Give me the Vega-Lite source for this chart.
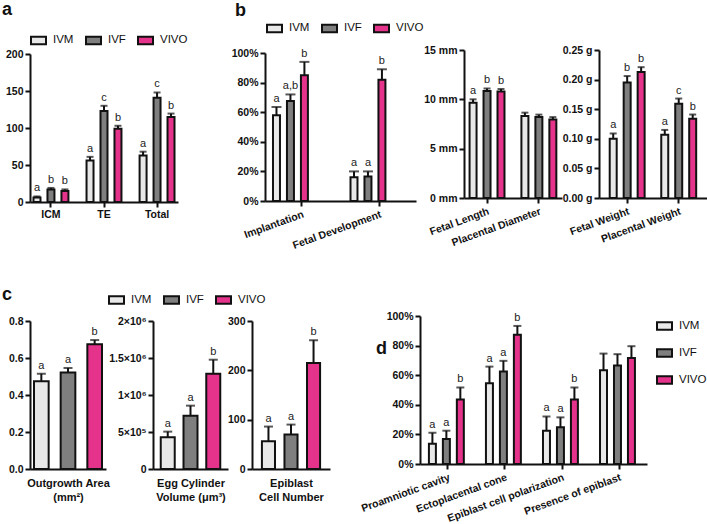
{
  "$schema": "https://vega.github.io/schema/vega-lite/v6.json",
  "background": "white",
  "padding": {"left": 2, "top": 1, "right": 0, "bottom": 2},
  "autosize": {"type": "pad"},
  "datasets": {
    "a": [
      {"cat": "ICM", "group": "IVM", "value": 6, "hi": 7.5, "sig": "a"},
      {"cat": "ICM", "group": "IVF", "value": 17, "hi": 19, "sig": "b"},
      {"cat": "ICM", "group": "VIVO", "value": 15, "hi": 17, "sig": "b"},
      {"cat": "TE", "group": "IVM", "value": 56, "hi": 61, "sig": "a"},
      {"cat": "TE", "group": "IVF", "value": 123, "hi": 130, "sig": "c"},
      {"cat": "TE", "group": "VIVO", "value": 99, "hi": 103, "sig": "b"},
      {"cat": "Total", "group": "IVM", "value": 63, "hi": 68, "sig": "a"},
      {"cat": "Total", "group": "IVF", "value": 141, "hi": 148, "sig": "c"},
      {"cat": "Total", "group": "VIVO", "value": 115, "hi": 119.5, "sig": "b"}
    ],
    "b1": [
      {"cat": "Implantation", "group": "IVM", "value": 58, "hi": 63.5, "sig": "a"},
      {"cat": "Implantation", "group": "IVF", "value": 67.5, "hi": 72, "sig": "a,b"},
      {"cat": "Implantation", "group": "VIVO", "value": 85, "hi": 94, "sig": "b"},
      {"cat": "Fetal Development", "group": "IVM", "value": 16, "hi": 20, "sig": "a"},
      {"cat": "Fetal Development", "group": "IVF", "value": 16.5, "hi": 20, "sig": "a"},
      {"cat": "Fetal Development", "group": "VIVO", "value": 82, "hi": 89, "sig": "b"}
    ],
    "b2": [
      {"cat": "Fetal Length", "group": "IVM", "value": 9.65, "hi": 10.0, "sig": "a"},
      {"cat": "Fetal Length", "group": "IVF", "value": 10.85, "hi": 11.1, "sig": "b"},
      {"cat": "Fetal Length", "group": "VIVO", "value": 10.8, "hi": 11.05, "sig": "b"},
      {"cat": "Placental Diameter", "group": "IVM", "value": 8.3, "hi": 8.65, "sig": ""},
      {"cat": "Placental Diameter", "group": "IVF", "value": 8.2, "hi": 8.45, "sig": ""},
      {"cat": "Placental Diameter", "group": "VIVO", "value": 7.95, "hi": 8.2, "sig": ""}
    ],
    "b3": [
      {"cat": "Fetal Weight", "group": "IVM", "value": 0.1, "hi": 0.109, "sig": "a"},
      {"cat": "Fetal Weight", "group": "IVF", "value": 0.195, "hi": 0.206, "sig": "b"},
      {"cat": "Fetal Weight", "group": "VIVO", "value": 0.213, "hi": 0.221, "sig": "b"},
      {"cat": "Placental Weight", "group": "IVM", "value": 0.107, "hi": 0.115, "sig": "a"},
      {"cat": "Placental Weight", "group": "IVF", "value": 0.159, "hi": 0.168, "sig": "c"},
      {"cat": "Placental Weight", "group": "VIVO", "value": 0.134, "hi": 0.141, "sig": "b"}
    ],
    "c1": [
      {"group": "IVM", "value": 0.475, "hi": 0.515, "sig": "a"},
      {"group": "IVF", "value": 0.522, "hi": 0.546, "sig": "a"},
      {"group": "VIVO", "value": 0.674, "hi": 0.697, "sig": "b"}
    ],
    "c2": [
      {"group": "IVM", "value": 428000, "hi": 505000, "sig": "a"},
      {"group": "IVF", "value": 720000, "hi": 856000, "sig": "a"},
      {"group": "VIVO", "value": 1288000, "hi": 1477000, "sig": "b"}
    ],
    "c3": [
      {"group": "IVM", "value": 56, "hi": 86, "sig": "a"},
      {"group": "IVF", "value": 70, "hi": 90, "sig": "a"},
      {"group": "VIVO", "value": 215, "hi": 261, "sig": "b"}
    ],
    "d": [
      {"cat": "Proamniotic cavity", "group": "IVM", "value": 13.7, "hi": 21.1, "sig": "a"},
      {"cat": "Proamniotic cavity", "group": "IVF", "value": 16.9, "hi": 22.5, "sig": "a"},
      {"cat": "Proamniotic cavity", "group": "VIVO", "value": 43.6, "hi": 51.7, "sig": "b"},
      {"cat": "Ectoplacental cone", "group": "IVM", "value": 54.6, "hi": 65.8, "sig": "a"},
      {"cat": "Ectoplacental cone", "group": "IVF", "value": 62.5, "hi": 69.7, "sig": "a"},
      {"cat": "Ectoplacental cone", "group": "VIVO", "value": 87.4, "hi": 93.3, "sig": "b"},
      {"cat": "Epiblast cell polarization", "group": "IVM", "value": 22.5, "hi": 32.1, "sig": "a"},
      {"cat": "Epiblast cell polarization", "group": "IVF", "value": 24.9, "hi": 31.5, "sig": "a"},
      {"cat": "Epiblast cell polarization", "group": "VIVO", "value": 43.6, "hi": 51.7, "sig": "b"},
      {"cat": "Presence of epiblast", "group": "IVM", "value": 63.4, "hi": 74.6, "sig": ""},
      {"cat": "Presence of epiblast", "group": "IVF", "value": 66.5, "hi": 74.2, "sig": ""},
      {"cat": "Presence of epiblast", "group": "VIVO", "value": 71.7, "hi": 79.6, "sig": ""}
    ]
  },
  "resolve": {"scale": {"color": "independent"}, "legend": {"color": "independent"}},
  "vconcat": [
    {
      "bounds": "flush",
      "spacing": 0,
      "resolve": {"scale": {"color": "independent"}, "legend": {"color": "independent"}},
      "hconcat": [
        {
          "title": {"text": "a", "dx": -28, "offset": 12.5},
          "width": 148, "height": 152,
          "data": {"name": "a"},
          "encoding": {
            "x": {"field": "cat", "type": "nominal", "sort": null, "title": null, "scale": {"paddingInner": 0.21, "paddingOuter": 0}, "axis": {"labelAngle": 0, "labelFontSize": 10.5, "labelPadding": 2}},
            "xOffset": {"field": "group", "type": "nominal", "sort": ["IVM", "IVF", "VIVO"], "scale": {"paddingInner": 0.5, "paddingOuter": 0.25}},
            "y": {"field": "value", "type": "quantitative", "title": null, "scale": {"domain": [0, 200], "range": [152, 4], "nice": false}, "axis": {"values": [0, 50, 100, 150, 200]}}
          },
          "layer": [
            {"mark": {"type": "rule", "strokeWidth": 2, "color": "#111"}, "encoding": {"y2": {"field": "hi"}}},
            {"mark": {"type": "tick", "thickness": 2, "size": 7, "color": "#111"}, "encoding": {"y": {"field": "hi", "type": "quantitative", "title": null}}},
            {"mark": {"type": "bar", "stroke": "#111", "strokeWidth": 2}, "encoding": {"color": {"field": "group", "type": "nominal", "scale": {"domain": ["IVM", "IVF", "VIVO"], "range": ["#e8e8e8", "#7f7f7f", "#e5328b"]}, "legend": {"orient": "none", "legendX": 0, "legendY": -18.5, "direction": "horizontal", "title": null, "symbolType": "M-1,-0.5H1V0.5H-1Z", "symbolSize": 225, "symbolStrokeColor": "#111", "symbolStrokeWidth": 2}}}},
            {"mark": {"type": "text", "baseline": "bottom", "dy": -3, "fontSize": 11, "fill": "#222"}, "encoding": {"y": {"field": "hi", "type": "quantitative", "title": null}, "text": {"field": "sig"}}}
          ]
        },
        {"width": 87, "height": 10, "data": {"values": []}, "mark": "point"},
        {
          "title": {"text": "b", "dx": -30, "offset": 0},
          "width": 151, "height": 151,
          "data": {"name": "b1"},
          "encoding": {
            "x": {"field": "cat", "type": "nominal", "sort": null, "title": null, "scale": {"paddingInner": 0.168, "paddingOuter": 0.058}, "axis": {"labelAngle": -20, "labelAlign": "right", "labelBaseline": "top", "labelFontSize": 10.5, "labelPadding": 3}},
            "xOffset": {"field": "group", "type": "nominal", "sort": ["IVM", "IVF", "VIVO"], "scale": {"paddingInner": 0.5, "paddingOuter": 0.25}},
            "y": {"field": "value", "type": "quantitative", "title": null, "scale": {"domain": [0, 100], "range": [151, 3], "nice": false}, "axis": {"values": [0, 20, 40, 60, 80, 100], "labelExpr": "datum.value + '%'"}}
          },
          "layer": [
            {"mark": {"type": "rule", "strokeWidth": 2, "color": "#111"}, "encoding": {"y2": {"field": "hi"}}},
            {"mark": {"type": "tick", "thickness": 2, "size": 10, "color": "#111"}, "encoding": {"y": {"field": "hi", "type": "quantitative", "title": null}}},
            {"mark": {"type": "bar", "stroke": "#111", "strokeWidth": 2}, "encoding": {"color": {"field": "group", "type": "nominal", "scale": {"domain": ["IVM", "IVF", "VIVO"], "range": ["#e8e8e8", "#7f7f7f", "#e5328b"]}, "legend": {"orient": "none", "legendX": 1, "legendY": -30.5, "direction": "horizontal", "title": null, "symbolType": "M-1,-0.5H1V0.5H-1Z", "symbolSize": 225, "symbolStrokeColor": "#111", "symbolStrokeWidth": 2}}}},
            {"mark": {"type": "text", "baseline": "bottom", "dy": -3, "fontSize": 11, "fill": "#222"}, "encoding": {"y": {"field": "hi", "type": "quantitative", "title": null}, "text": {"field": "sig"}}}
          ]
        },
        {"width": 48, "height": 10, "data": {"values": []}, "mark": "point"},
        {
          "width": 98, "height": 148,
          "data": {"name": "b2"},
          "encoding": {
            "x": {"field": "cat", "type": "nominal", "sort": null, "title": null, "scale": {"paddingInner": 0.19, "paddingOuter": 0.04}, "axis": {"labelAngle": -20, "labelAlign": "right", "labelBaseline": "top", "labelFontSize": 10.5, "labelPadding": 3}},
            "xOffset": {"field": "group", "type": "nominal", "sort": ["IVM", "IVF", "VIVO"], "scale": {"paddingInner": 0.5, "paddingOuter": 0.25}},
            "y": {"field": "value", "type": "quantitative", "title": null, "scale": {"domain": [0, 15], "nice": false}, "axis": {"values": [0, 5, 10, 15], "labelExpr": "datum.value + ' mm'"}}
          },
          "layer": [
            {"mark": {"type": "rule", "strokeWidth": 2, "color": "#111"}, "encoding": {"y2": {"field": "hi"}}},
            {"mark": {"type": "tick", "thickness": 2, "size": 7, "color": "#111"}, "encoding": {"y": {"field": "hi", "type": "quantitative", "title": null}}},
            {"mark": {"type": "bar", "stroke": "#111", "strokeWidth": 2}, "encoding": {"color": {"field": "group", "type": "nominal", "scale": {"domain": ["IVM", "IVF", "VIVO"], "range": ["#e8e8e8", "#7f7f7f", "#e5328b"]}, "legend": null}}},
            {"mark": {"type": "text", "baseline": "bottom", "dy": -3, "fontSize": 11, "fill": "#222"}, "encoding": {"y": {"field": "hi", "type": "quantitative", "title": null}, "text": {"field": "sig"}}}
          ]
        },
        {"width": 37, "height": 10, "data": {"values": []}, "mark": "point"},
        {
          "width": 108, "height": 148,
          "data": {"name": "b3"},
          "encoding": {
            "x": {"field": "cat", "type": "nominal", "sort": null, "title": null, "scale": {"paddingInner": 0.185, "paddingOuter": 0.14}, "axis": {"labelAngle": -20, "labelAlign": "right", "labelBaseline": "top", "labelFontSize": 10.5, "labelPadding": 3}},
            "xOffset": {"field": "group", "type": "nominal", "sort": ["IVM", "IVF", "VIVO"], "scale": {"paddingInner": 0.5, "paddingOuter": 0.25}},
            "y": {"field": "value", "type": "quantitative", "title": null, "scale": {"domain": [0, 0.25], "nice": false}, "axis": {"values": [0, 0.05, 0.1, 0.15, 0.2, 0.25], "labelExpr": "format(datum.value, '.2f') + ' g'"}}
          },
          "layer": [
            {"mark": {"type": "rule", "strokeWidth": 2, "color": "#111"}, "encoding": {"y2": {"field": "hi"}}},
            {"mark": {"type": "tick", "thickness": 2, "size": 7, "color": "#111"}, "encoding": {"y": {"field": "hi", "type": "quantitative", "title": null}}},
            {"mark": {"type": "bar", "stroke": "#111", "strokeWidth": 2}, "encoding": {"color": {"field": "group", "type": "nominal", "scale": {"domain": ["IVM", "IVF", "VIVO"], "range": ["#e8e8e8", "#7f7f7f", "#e5328b"]}, "legend": null}}},
            {"mark": {"type": "text", "baseline": "bottom", "dy": -3, "fontSize": 11, "fill": "#222"}, "encoding": {"y": {"field": "hi", "type": "quantitative", "title": null}, "text": {"field": "sig"}}}
          ]
        }
      ]
    },
    {
      "bounds": "flush",
      "spacing": 0,
      "resolve": {"scale": {"color": "independent"}, "legend": {"color": "independent"}},
      "hconcat": [
        {
          "title": {"text": "c", "dx": -28, "offset": 0, "dy": 13},
          "width": 76, "height": 153,
          "data": {"name": "c1"},
          "encoding": {
            "x": {"field": "group", "type": "nominal", "sort": ["IVM", "IVF", "VIVO"], "title": ["Outgrowth Area", "(mm²)"], "scale": {"paddingInner": 0.45, "paddingOuter": 0.15}, "axis": {"labels": false, "ticks": false, "titlePadding": 8}},
            "y": {"field": "value", "type": "quantitative", "title": null, "scale": {"domain": [0, 0.8], "range": [153, 5], "nice": false}, "axis": {"values": [0, 0.2, 0.4, 0.6, 0.8], "format": ".1f"}}
          },
          "layer": [
            {"mark": {"type": "rule", "strokeWidth": 2, "color": "#111"}, "encoding": {"y2": {"field": "hi"}}},
            {"mark": {"type": "tick", "thickness": 2, "size": 9, "color": "#111"}, "encoding": {"y": {"field": "hi", "type": "quantitative", "title": null}}},
            {"mark": {"type": "bar", "stroke": "#111", "strokeWidth": 2}, "encoding": {"color": {"field": "group", "type": "nominal", "scale": {"domain": ["IVM", "IVF", "VIVO"], "range": ["#e8e8e8", "#7f7f7f", "#e5328b"]}, "legend": {"orient": "none", "legendX": 78, "legendY": -25, "direction": "horizontal", "title": null, "symbolType": "M-1,-0.5H1V0.5H-1Z", "symbolSize": 225, "symbolStrokeColor": "#111", "symbolStrokeWidth": 2}}}},
            {"mark": {"type": "text", "baseline": "bottom", "dy": -3, "fontSize": 11, "fill": "#222"}, "encoding": {"y": {"field": "hi", "type": "quantitative", "title": null}, "text": {"field": "sig"}}}
          ]
        },
        {"width": 47, "height": 10, "data": {"values": []}, "mark": "point"},
        {
          "width": 75, "height": 153,
          "data": {"name": "c2"},
          "encoding": {
            "x": {"field": "group", "type": "nominal", "sort": ["IVM", "IVF", "VIVO"], "title": ["Egg Cylinder", "Volume (μm³)"], "scale": {"paddingInner": 0.385, "paddingOuter": 0.34}, "axis": {"labels": false, "ticks": false, "titlePadding": 8}},
            "y": {"field": "value", "type": "quantitative", "title": null, "scale": {"domain": [0, 2000000], "range": [153, 5], "nice": false}, "axis": {"values": [0, 500000, 1000000, 1500000, 2000000], "labelExpr": "datum.value == 0 ? '0' : datum.value == 500000 ? '5×10⁵' : datum.value == 1000000 ? '1×10⁶' : datum.value == 1500000 ? '1.5×10⁶' : '2×10⁶'"}}
          },
          "layer": [
            {"mark": {"type": "rule", "strokeWidth": 2, "color": "#111"}, "encoding": {"y2": {"field": "hi"}}},
            {"mark": {"type": "tick", "thickness": 2, "size": 9, "color": "#111"}, "encoding": {"y": {"field": "hi", "type": "quantitative", "title": null}}},
            {"mark": {"type": "bar", "stroke": "#111", "strokeWidth": 2}, "encoding": {"color": {"field": "group", "type": "nominal", "scale": {"domain": ["IVM", "IVF", "VIVO"], "range": ["#e8e8e8", "#7f7f7f", "#e5328b"]}, "legend": null}}},
            {"mark": {"type": "text", "baseline": "bottom", "dy": -3, "fontSize": 11, "fill": "#222"}, "encoding": {"y": {"field": "hi", "type": "quantitative", "title": null}, "text": {"field": "sig"}}}
          ]
        },
        {"width": 24, "height": 10, "data": {"values": []}, "mark": "point"},
        {
          "width": 78, "height": 153,
          "data": {"name": "c3"},
          "encoding": {
            "x": {"field": "group", "type": "nominal", "sort": ["IVM", "IVF", "VIVO"], "title": ["Epiblast", "Cell Number"], "scale": {"paddingInner": 0.42, "paddingOuter": 0.44}, "axis": {"labels": false, "ticks": false, "titlePadding": 8}},
            "y": {"field": "value", "type": "quantitative", "title": null, "scale": {"domain": [0, 300], "range": [153, 5], "nice": false}, "axis": {"values": [0, 100, 200, 300]}}
          },
          "layer": [
            {"mark": {"type": "rule", "strokeWidth": 2, "color": "#111"}, "encoding": {"y2": {"field": "hi"}}},
            {"mark": {"type": "tick", "thickness": 2, "size": 9, "color": "#111"}, "encoding": {"y": {"field": "hi", "type": "quantitative", "title": null}}},
            {"mark": {"type": "bar", "stroke": "#111", "strokeWidth": 2}, "encoding": {"color": {"field": "group", "type": "nominal", "scale": {"domain": ["IVM", "IVF", "VIVO"], "range": ["#e8e8e8", "#7f7f7f", "#e5328b"]}, "legend": null}}},
            {"mark": {"type": "text", "baseline": "bottom", "dy": -3, "fontSize": 11, "fill": "#222"}, "encoding": {"y": {"field": "hi", "type": "quantitative", "title": null}, "text": {"field": "sig"}}}
          ]
        },
        {"width": 90, "height": 10, "data": {"values": []}, "mark": "point"},
        {
          "title": {"text": "d", "dx": -44, "dy": 49},
          "width": 227, "height": 148,
          "data": {"name": "d"},
          "encoding": {
            "x": {"field": "cat", "type": "nominal", "sort": null, "title": null, "scale": {"paddingInner": 0.21, "paddingOuter": 0.095}, "axis": {"labelAngle": -20, "labelAlign": "right", "labelBaseline": "top", "labelFontSize": 10.5, "labelPadding": 3}},
            "xOffset": {"field": "group", "type": "nominal", "sort": ["IVM", "IVF", "VIVO"], "scale": {"paddingInner": 0.47, "paddingOuter": 0.235}},
            "y": {"field": "value", "type": "quantitative", "title": null, "scale": {"domain": [0, 100], "nice": false}, "axis": {"values": [0, 20, 40, 60, 80, 100], "labelExpr": "datum.value + '%'"}}
          },
          "layer": [
            {"mark": {"type": "rule", "strokeWidth": 2, "color": "#111"}, "encoding": {"y2": {"field": "hi"}}},
            {"mark": {"type": "tick", "thickness": 2, "size": 8, "color": "#111"}, "encoding": {"y": {"field": "hi", "type": "quantitative", "title": null}}},
            {"mark": {"type": "bar", "stroke": "#111", "strokeWidth": 2}, "encoding": {"color": {"field": "group", "type": "nominal", "scale": {"domain": ["IVM", "IVF", "VIVO"], "range": ["#e8e8e8", "#7f7f7f", "#e5328b"]}, "legend": {"orient": "none", "legendX": 236, "legendY": 1.5, "direction": "vertical", "title": null, "symbolType": "M-1,-0.5H1V0.5H-1Z", "symbolSize": 225, "symbolStrokeColor": "#111", "symbolStrokeWidth": 2}}}},
            {"mark": {"type": "text", "baseline": "bottom", "dy": -3, "fontSize": 11, "fill": "#222"}, "encoding": {"y": {"field": "hi", "type": "quantitative", "title": null}, "text": {"field": "sig"}}}
          ]
        }
      ]
    }
  ],
  "spacing": 35,
  "config": {
    "view": {"stroke": null},
    "font": "Liberation Sans",
    "axis": {
      "domainColor": "#111", "domainWidth": 2, "tickColor": "#111", "tickWidth": 2, "tickSize": 5,
      "labelFont": "Liberation Sans", "labelFontWeight": "bold", "labelFontSize": 10.5, "labelColor": "#111", "labelPadding": 2,
      "grid": false, "labelOverlap": false, "labelBound": false,
      "titleFont": "Liberation Sans", "titleFontWeight": "bold", "titleFontSize": 11, "titleColor": "#111", "titleLineHeight": 14
    },
    "legend": {
      "labelFont": "Liberation Sans", "labelFontSize": 11.5, "labelColor": "#111", "labelOffset": 6,
      "columnPadding": 8, "rowPadding": 10, "padding": 0
    },
    "title": {"anchor": "start", "frame": "group", "fontSize": 18, "fontWeight": "bold", "color": "#111", "font": "Liberation Sans", "offset": 2}
  }
}
